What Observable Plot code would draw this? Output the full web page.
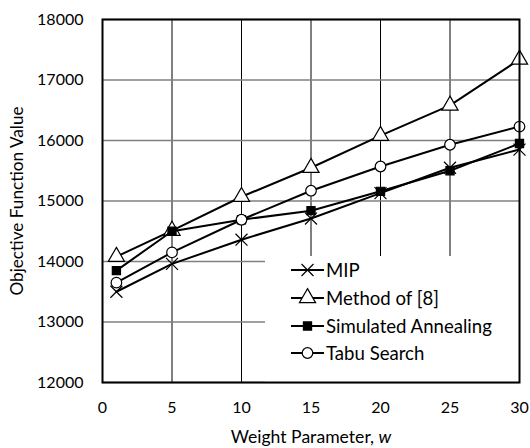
<!DOCTYPE html>
<html>
<head>
<meta charset="utf-8">
<script src="https://cdn.jsdelivr.net/npm/d3@7"></script>
<script src="https://cdn.jsdelivr.net/npm/@observablehq/plot@0.6"></script>
<style>
  html, body { margin: 0; padding: 0; background: #fff; }
  #chart { width: 530px; height: 448px; }
</style>
</head>
<body>
<div id="chart"></div>
<script>
// ---- data ----
const weights = [1, 5, 10, 15, 20, 25, 30];
const mip = [13500, 13960, 14360, 14710, 15130, 15550, 15850];
const method8 = [14080, 14510, 15070, 15550, 16080, 16580, 17340];
const simAnneal = [13850, 14500, 14690, 14840, 15160, 15500, 15950];
const tabu = [13650, 14150, 14690, 15170, 15570, 15930, 16230];
const seriesNames = ["MIP", "Method of [8]", "Simulated Annealing", "Tabu Search"];
const xTicks = [0, 5, 10, 15, 20, 25, 30];
const yTicks = [12000, 13000, 14000, 15000, 16000, 17000, 18000];

const seriesValues = [mip, method8, simAnneal, tabu];
const styles = [
  {symbol: "times", fill: "none", stroke: "#000", r: 5.5},
  {symbol: "triangle", fill: "#fff", stroke: "#000", r: 6},
  {symbol: "square", fill: "#000", stroke: "#000", r: 4.6},
  {symbol: "circle", fill: "#fff", stroke: "#000", r: 5.3}
];
const tables = seriesValues.map((vals, s) =>
  weights.map((w, i) => ({w, v: vals[i], series: seriesNames[s]})));

const marks = [
  Plot.ruleX(xTicks, {stroke: "#000", strokeWidth: 1}),
  Plot.ruleY(yTicks, {stroke: "#808080", strokeWidth: 1.5})
];
tables.forEach((t, s) => {
  marks.push(Plot.line(t, {x: "w", y: "v", stroke: "#000", strokeWidth: 2}));
  marks.push(Plot.dot(t, {x: "w", y: "v", symbol: () => styles[s].symbol, r: styles[s].r,
    fill: styles[s].fill, stroke: styles[s].stroke, strokeWidth: 1.2}));
});
marks.push(Plot.frame({stroke: "#000", strokeWidth: 2}));

const chart = Plot.plot({
  width: 530, height: 448,
  marginLeft: 102, marginRight: 11, marginTop: 19, marginBottom: 66,
  style: {fontFamily: "Lato, 'Open Sans', sans-serif", fontSize: "16px", color: "#000", background: "#fff"},
  x: {domain: [0, 30], ticks: xTicks, tickSize: 0, tickPadding: 19,
      label: "Weight Parameter, w", labelAnchor: "center", labelOffset: 60, labelArrow: "none"},
  y: {domain: [12000, 18000], ticks: yTicks, tickSize: 0, tickPadding: 19, tickFormat: "d",
      label: "Objective Function Value", labelAnchor: "center", labelOffset: 92, labelArrow: "none"},
  marks
});
document.getElementById("chart").appendChild(chart);

const svgNode = chart.tagName.toLowerCase() === "svg" ? chart : chart.querySelector("svg");
const svg = d3.select(svgNode);
// axis labels: larger font, italic "w"
svg.selectAll("text").each(function () {
  const t = this.textContent;
  if (t.startsWith("Weight Parameter")) {
    const el = d3.select(this).attr("font-size", 17.6);
    el.text("Weight Parameter, ");
    el.append("tspan").attr("font-style", "italic").text("w");
  } else if (t.startsWith("Objective Function")) {
    d3.select(this).attr("font-size", 17.2);
  }
});

// legend box (inside the plot area, bottom right), placed just under the frame
const lg = d3.create("svg:g").attr("text-anchor", "start");
lg.append("rect").attr("x", 265).attr("y", 256).attr("width", 254).attr("height", 126)
  .attr("fill", "#fff").attr("stroke", "none");
const rowsY = [270, 298, 326, 353];
const symMap = {times: d3.symbolTimes, triangle: d3.symbolTriangle, square: d3.symbolSquare, circle: d3.symbolCircle};
seriesNames.forEach((name, s) => {
  const y = rowsY[s];
  lg.append("line").attr("x1", 291).attr("x2", 324).attr("y1", y).attr("y2", y)
    .attr("stroke", "#000").attr("stroke-width", 2);
  const st = styles[s];
  lg.append("path")
    .attr("transform", `translate(307.5,${y})`)
    .attr("d", d3.symbol(symMap[st.symbol], st.r * st.r * Math.PI)())
    .attr("fill", st.fill).attr("stroke", st.stroke).attr("stroke-width", 1.2);
  lg.append("text").attr("x", 326).attr("y", y).attr("dy", "0.36em")
    .attr("text-anchor", "start")
    .attr("font-family", "Lato, 'Open Sans', sans-serif").attr("font-size", 18.6)
    .attr("fill", "#000").text(name);
});
const frameNode = svgNode.querySelector('[aria-label="frame"]');
if (frameNode && frameNode.parentNode) {
  frameNode.parentNode.insertBefore(lg.node(), frameNode);
} else {
  svgNode.appendChild(lg.node());
}
</script>
</body>
</html>
